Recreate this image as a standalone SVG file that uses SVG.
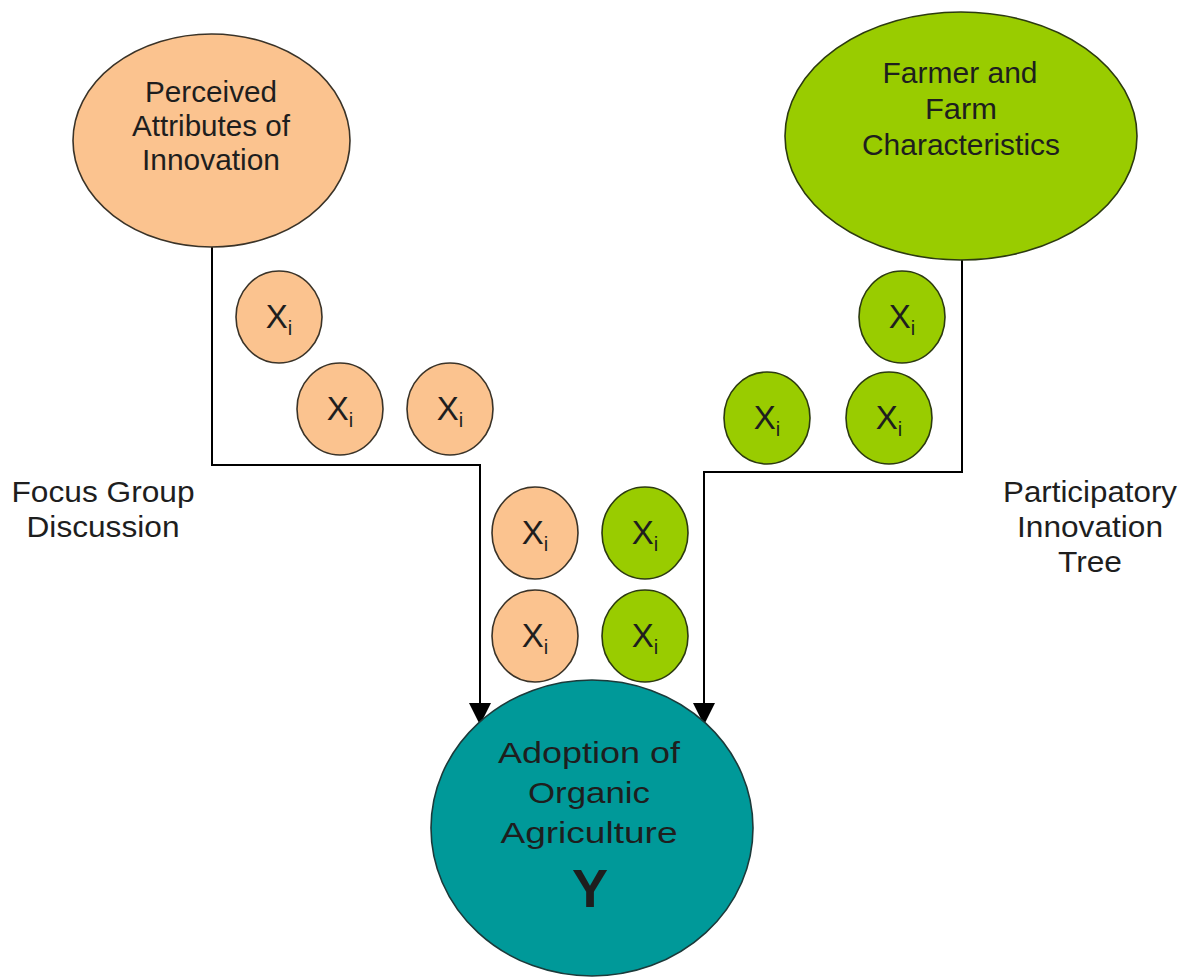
<svg xmlns="http://www.w3.org/2000/svg" width="1184" height="977" viewBox="0 0 1184 977">
<defs>
<style>
.t{font-family:"Liberation Sans",Arial,sans-serif;fill:#1e1e1e;text-anchor:middle}
.big{font-size:29px}
.lab{font-size:29px}
.x{font-size:33px}
.sub{font-size:20px}
.peach{fill:#FBC38F;stroke:#3a3328;stroke-width:1.6}
.green{fill:#99CC00;stroke:#2c3a10;stroke-width:1.6}
.teal{fill:#009999;stroke:#1c3a3a;stroke-width:1.6}
.conn{fill:none;stroke:#000;stroke-width:2}
.head{fill:#000}
</style>
</defs>
<rect width="1184" height="977" fill="#fff"/>

<g id="connectors">
<polyline class="conn" points="212,247 212,465 480,465 480,704"/>
<polygon class="head" points="469,703 491,703 480,725"/>
<polyline class="conn" points="962,260 962,472 704,472 704,704"/>
<polygon class="head" points="693,703 715,703 704,725"/>
</g>

<g id="perceived">
<ellipse class="peach" cx="211.5" cy="140.5" rx="138.5" ry="106.5"/>
<text class="t big" x="211" y="102" textLength="132" lengthAdjust="spacingAndGlyphs">Perceived</text>
<text class="t big" x="211" y="136" textLength="158" lengthAdjust="spacingAndGlyphs">Attributes of</text>
<text class="t big" x="211" y="170" textLength="138" lengthAdjust="spacingAndGlyphs">Innovation</text>
</g>

<g id="farmer">
<ellipse class="green" cx="961" cy="136" rx="176" ry="124"/>
<text class="t big" x="960" y="83" textLength="155" lengthAdjust="spacingAndGlyphs">Farmer and</text>
<text class="t big" x="961" y="119" textLength="72" lengthAdjust="spacingAndGlyphs">Farm</text>
<text class="t big" x="961" y="155" textLength="198" lengthAdjust="spacingAndGlyphs">Characteristics</text>
</g>

<g id="adoption">
<ellipse class="teal" cx="592" cy="828" rx="161" ry="148"/>
<text class="t big" x="589" y="763" textLength="182" lengthAdjust="spacingAndGlyphs">Adoption of</text>
<text class="t big" x="589" y="803" textLength="122" lengthAdjust="spacingAndGlyphs">Organic</text>
<text class="t big" x="589" y="843" textLength="177" lengthAdjust="spacingAndGlyphs">Agriculture</text>
<text class="t" x="590" y="907" style="font-size:54px;font-weight:bold">Y</text>
</g>

<g id="x-p1"><ellipse class="peach" cx="279" cy="317" rx="43" ry="46"/><text class="t x" x="279" y="328">X<tspan class="sub" dy="7">i</tspan></text></g>
<g id="x-p2"><ellipse class="peach" cx="340" cy="409" rx="43" ry="46"/><text class="t x" x="340" y="420">X<tspan class="sub" dy="7">i</tspan></text></g>
<g id="x-p3"><ellipse class="peach" cx="450" cy="409" rx="43" ry="46"/><text class="t x" x="450" y="420">X<tspan class="sub" dy="7">i</tspan></text></g>
<g id="x-g1"><ellipse class="green" cx="902" cy="317" rx="43" ry="46"/><text class="t x" x="902" y="328">X<tspan class="sub" dy="7">i</tspan></text></g>
<g id="x-g2"><ellipse class="green" cx="767" cy="418" rx="43" ry="46"/><text class="t x" x="767" y="429">X<tspan class="sub" dy="7">i</tspan></text></g>
<g id="x-g3"><ellipse class="green" cx="889" cy="418" rx="43" ry="46"/><text class="t x" x="889" y="429">X<tspan class="sub" dy="7">i</tspan></text></g>
<g id="x-p4"><ellipse class="peach" cx="535" cy="533" rx="43" ry="46"/><text class="t x" x="535" y="544">X<tspan class="sub" dy="7">i</tspan></text></g>
<g id="x-g4"><ellipse class="green" cx="645" cy="533" rx="43" ry="46"/><text class="t x" x="645" y="544">X<tspan class="sub" dy="7">i</tspan></text></g>
<g id="x-p5"><ellipse class="peach" cx="535" cy="636" rx="43" ry="46"/><text class="t x" x="535" y="647">X<tspan class="sub" dy="7">i</tspan></text></g>
<g id="x-g5"><ellipse class="green" cx="645" cy="636" rx="43" ry="46"/><text class="t x" x="645" y="647">X<tspan class="sub" dy="7">i</tspan></text></g>

<g id="focus-label">
<text class="t lab" x="103" y="502" textLength="183" lengthAdjust="spacingAndGlyphs">Focus Group</text>
<text class="t lab" x="103" y="537" textLength="153" lengthAdjust="spacingAndGlyphs">Discussion</text>
</g>
<g id="participatory-label">
<text class="t lab" x="1090" y="502" textLength="174" lengthAdjust="spacingAndGlyphs">Participatory</text>
<text class="t lab" x="1090" y="537" textLength="146" lengthAdjust="spacingAndGlyphs">Innovation</text>
<text class="t lab" x="1090" y="572" textLength="64" lengthAdjust="spacingAndGlyphs">Tree</text>
</g>
</svg>
